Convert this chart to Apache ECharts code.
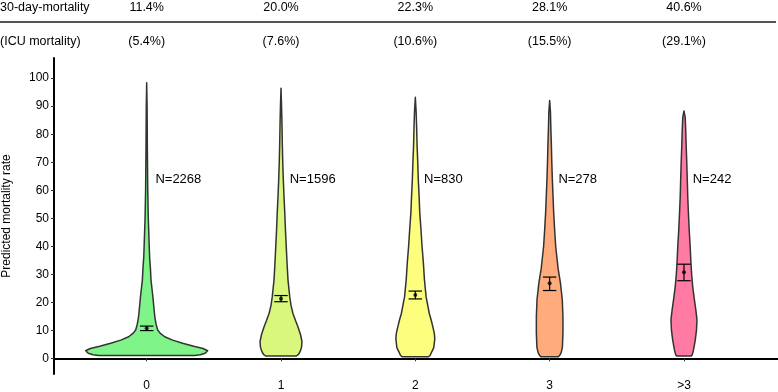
<!DOCTYPE html>
<html>
<head>
<meta charset="utf-8">
<script src="https://cdn.jsdelivr.net/npm/echarts@6/dist/echarts.min.js"></script>
<style>
  html, body { margin: 0; padding: 0; background: #fff; }
  #chart { width: 778px; height: 392px; }
</style>
</head>
<body>
<div id="chart"></div>
<script>
// groups and summary rows
const categories = ['0', '1', '2', '3', '>3'];
const mortality30 = ['11.4%', '20.0%', '22.3%', '28.1%', '40.6%'];
const icuMortality = ['(5.4%)', '(7.6%)', '(10.6%)', '(15.5%)', '(29.1%)'];
const groupN = [2268, 1596, 830, 278, 242];

// mean predicted rate with its interval
const meanRate = [10.7, 21.3, 22.6, 26.8, 30.7];
const ciLow = [9.9, 20.2, 21.2, 24.2, 27.7];
const ciHigh = [11.5, 22.4, 24.0, 29.0, 33.6];

// violin outlines: rate levels + half width (in category units)
const levels0 = [1.0, 1.3, 1.8, 2.7, 3.5, 4.3, 5.4, 6.5, 7.7, 9.0, 10.1, 12, 14, 16, 19, 22, 25, 28, 32, 36, 40, 50, 60, 75, 90, 98.4];
const width0 = [0.357, 0.400, 0.435, 0.454, 0.420, 0.350, 0.268, 0.193, 0.134, 0.100, 0.082, 0.071, 0.063, 0.058, 0.052, 0.046, 0.039, 0.032, 0.028, 0.022, 0.019, 0.012, 0.008, 0.005, 0.003, 0];
const levels1 = [0.8, 1.2, 2, 3, 4, 6, 8.5, 11.3, 13.5, 16, 19, 22, 28, 34, 40, 46, 52, 58, 64, 70, 76, 84, 90, 96.4];
const width1 = [0.112, 0.126, 0.138, 0.147, 0.153, 0.156, 0.145, 0.126, 0.108, 0.089, 0.074, 0.065, 0.052, 0.045, 0.039, 0.033, 0.028, 0.022, 0.017, 0.013, 0.010, 0.007, 0.004, 0];
const levels2 = [0.6, 1.0, 2, 3, 4, 7, 9, 11.3, 13.5, 16, 19, 22, 28, 34, 40, 46, 52, 58, 64, 70, 76, 82, 88, 93.2];
const width2 = [0.099, 0.110, 0.119, 0.130, 0.138, 0.145, 0.141, 0.130, 0.119, 0.104, 0.092, 0.080, 0.068, 0.060, 0.050, 0.042, 0.033, 0.028, 0.022, 0.018, 0.013, 0.010, 0.006, 0];
const levels3 = [0.6, 1.0, 2, 4, 9, 15, 21, 27, 32, 36, 40, 46, 52, 58, 64, 70, 76, 82, 88, 92];
const width3 = [0.065, 0.074, 0.086, 0.095, 0.099, 0.099, 0.094, 0.080, 0.063, 0.054, 0.045, 0.037, 0.030, 0.025, 0.020, 0.016, 0.013, 0.009, 0.006, 0];
const levels4 = [0.8, 1.3, 3, 6.5, 10, 13.7, 17, 20.8, 25.6, 30, 34, 40, 45.8, 52, 57.7, 63, 69.6, 75, 81.5, 86, 88.3];
const width4 = [0.054, 0.062, 0.071, 0.084, 0.093, 0.097, 0.089, 0.078, 0.065, 0.057, 0.052, 0.046, 0.039, 0.033, 0.028, 0.025, 0.021, 0.017, 0.013, 0.009, 0];

const violinLevels = [levels0, levels1, levels2, levels3, levels4];
const violinWidths = [width0, width1, width2, width3, width4];
const fillColors = ['#7ef489', '#d9f77d', '#fdfd7e', '#ffab7b', '#ff7ba3'];

const FONT = '"Liberation Sans", Arial, sans-serif';
const positions = categories.map((c, i) => i + 1);

const chart = echarts.init(document.getElementById('chart'));

function renderViolin(params, api) {
  const k = params.dataIndex;
  const lv = violinLevels[k], hw = violinWidths[k];
  const pts = [];
  for (let i = 0; i < lv.length; i++) pts.push(api.coord([positions[k] + hw[i], lv[i]]));
  for (let i = lv.length - 1; i >= 0; i--) pts.push(api.coord([positions[k] - hw[i], lv[i]]));
  return {
    type: 'polygon',
    shape: { points: pts },
    style: { fill: fillColors[k], stroke: '#333', lineWidth: 1.5, lineJoin: 'round' },
  };
}

function renderErrorBar(params, api) {
  const k = params.dataIndex;
  const capHalf = 0.05;
  const lo = api.coord([positions[k], ciLow[k]]);
  const hi = api.coord([positions[k], ciHigh[k]]);
  const loL = api.coord([positions[k] - capHalf, ciLow[k]]);
  const loR = api.coord([positions[k] + capHalf, ciLow[k]]);
  const hiL = api.coord([positions[k] - capHalf, ciHigh[k]]);
  const hiR = api.coord([positions[k] + capHalf, ciHigh[k]]);
  const style = { stroke: '#000', lineWidth: 1.2 };
  return {
    type: 'group',
    children: [
      { type: 'line', shape: { x1: lo[0], y1: lo[1], x2: hi[0], y2: hi[1] }, style },
      { type: 'line', shape: { x1: loL[0], y1: loL[1], x2: loR[0], y2: loR[1] }, style },
      { type: 'line', shape: { x1: hiL[0], y1: hiL[1], x2: hiR[0], y2: hiR[1] }, style },
    ],
  };
}

// N= labels sit just right of each violin
function renderCount(params, api) {
  const k = params.dataIndex;
  const p = api.coord([positions[k] + 0.065, 64]);
  return {
    type: 'text',
    x: p[0], y: p[1],
    style: { text: 'N=' + groupN[k], fill: '#000', font: '13px ' + FONT, align: 'left', verticalAlign: 'middle' },
  };
}

const topAxis = (labels, margin) => ({
  type: 'value', position: 'top', min: 0.31, max: 5.7,
  axisLine: { show: false }, axisTick: { show: false }, splitLine: { show: false },
  axisLabel: {
    customValues: positions, margin,
    formatter: v => labels[Math.round(v) - 1],
    color: '#000', fontSize: 12.5, fontFamily: FONT,
  },
});

chart.setOption({
  animation: false,
  backgroundColor: '#fff',
  grid: { left: 54, right: 0, top: 58, bottom: 18, containLabel: false, outerBoundsMode: 'none' },
  xAxis: [
    {
      type: 'value', min: 0.31, max: 5.7,
      axisLine: { lineStyle: { color: '#000', width: 2 } },
      axisTick: { customValues: positions, length: 3, lineStyle: { color: '#333' } },
      axisLabel: {
        customValues: positions,
        formatter: v => categories[Math.round(v) - 1],
        color: '#000', fontSize: 12, fontFamily: FONT, margin: 6,
      },
      splitLine: { show: false },
    },
    topAxis(mortality30, 44),
    topAxis(icuMortality, 10),
  ],
  yAxis: {
    type: 'value', min: -5.6, max: 107.2,
    name: 'Predicted mortality rate', nameLocation: 'middle', nameGap: 41, nameRotate: 90,
    nameTextStyle: { color: '#000', fontSize: 12, fontFamily: FONT },
    axisLine: { show: true, lineStyle: { color: '#000', width: 2 } },
    axisTick: { show: true, customValues: [0, 10, 20, 30, 40, 50, 60, 70, 80, 90, 100], length: 3, lineStyle: { color: '#333' } },
    axisLabel: {
      customValues: [0, 10, 20, 30, 40, 50, 60, 70, 80, 90, 100],
      color: '#000', fontSize: 12, fontFamily: FONT, margin: 5,
    },
    splitLine: { show: false },
  },
  graphic: [
    { type: 'text', left: 0, top: 1, style: { text: '30-day-mortality', fill: '#000', font: '12.5px ' + FONT } },
    { type: 'text', left: 0, top: 35, style: { text: '(ICU mortality)', fill: '#000', font: '12.5px ' + FONT } },
    { type: 'line', shape: { x1: 0, y1: 22, x2: 776, y2: 22 }, style: { stroke: '#555', lineWidth: 2 } },
  ],
  series: [
    {
      type: 'custom', renderItem: renderViolin,
      data: positions.map((p, i) => [p, meanRate[i]]),
    },
    {
      type: 'custom', renderItem: renderErrorBar, z: 3,
      data: positions.map((p, i) => [p, meanRate[i]]),
    },
    {
      type: 'scatter', symbolSize: 4, z: 4,
      itemStyle: { color: '#000' },
      data: positions.map((p, i) => [p, meanRate[i]]),
    },
    {
      type: 'custom', renderItem: renderCount, z: 4,
      data: positions.map((p, i) => [p, meanRate[i]]),
    },
  ],
});
</script>
</body>
</html>
